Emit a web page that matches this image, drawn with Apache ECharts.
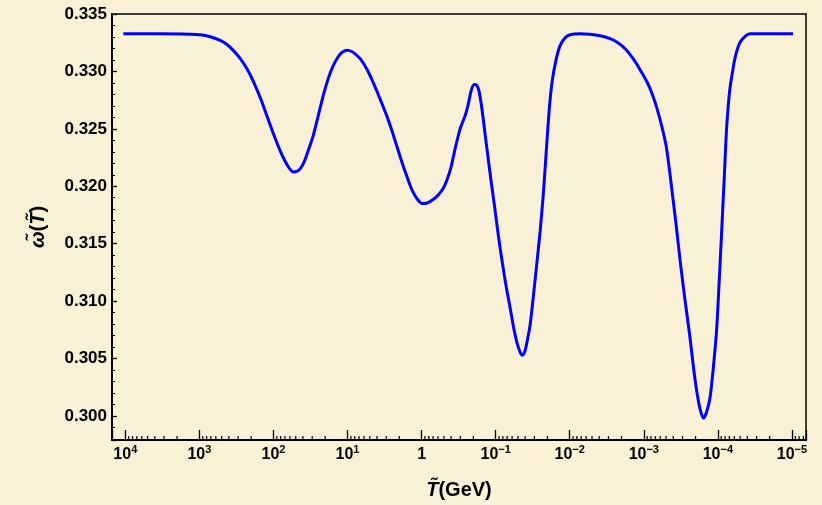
<!DOCTYPE html>
<html>
<head>
<meta charset="utf-8">
<script src="https://cdn.jsdelivr.net/npm/echarts@6/dist/echarts.min.js"></script>
<style>
html,body{margin:0;padding:0;background:#f9f1d5;}
#chart{width:822px;height:505px;}
</style>
</head>
<body>
<div id="chart"></div>
<script>
// log10 of temperature T (GeV)
const log10T = [4.027, 3.528, 3.123, 2.988, 2.853, 2.718, 2.624, 2.543, 2.448, 2.354,
  2.273, 2.178, 2.111, 2.043, 1.976, 1.908, 1.841, 1.787, 1.733, 1.679,
  1.638, 1.584, 1.530, 1.463, 1.395, 1.328, 1.261, 1.193, 1.126, 1.072,
  1.004, 0.937, 0.883, 0.829, 0.734, 0.653, 0.559, 0.464, 0.397, 0.329,
  0.262, 0.194, 0.127, 0.059, -0.008, -0.076, -0.156, -0.224, -0.291, -0.345,
  -0.399, -0.453, -0.521, -0.588, -0.629, -0.669, -0.710, -0.744, -0.777, -0.818,
  -0.858, -0.899, -0.939, -0.980, -1.020, -1.061, -1.128, -1.196, -1.250, -1.290,
  -1.331, -1.358, -1.391, -1.425, -1.466, -1.506, -1.553, -1.600, -1.641, -1.681,
  -1.722, -1.762, -1.816, -1.870, -1.938, -2.005, -2.140, -2.275, -2.410, -2.545,
  -2.640, -2.748, -2.856, -2.950, -3.044, -3.112, -3.179, -3.247, -3.301, -3.341,
  -3.382, -3.436, -3.490, -3.557, -3.625, -3.672, -3.715, -3.760, -3.804, -3.847,
  -3.895, -3.935, -3.982, -4.016, -4.050, -4.084, -4.117, -4.158, -4.205, -4.246,
  -4.300, -4.367, -4.435, -5.015];
// omega(T)
const omega = [0.33328, 0.33328, 0.33324, 0.33319, 0.33302, 0.33270, 0.33232, 0.33183, 0.33111, 0.33019,
  0.32915, 0.32771, 0.32654, 0.32532, 0.32415, 0.32306, 0.32215, 0.32158, 0.32125, 0.32132,
  0.32154, 0.32215, 0.32311, 0.32441, 0.32615, 0.32789, 0.32937, 0.33050, 0.33128, 0.33167,
  0.33185, 0.33171, 0.33145, 0.33111, 0.33015, 0.32902, 0.32758, 0.32602, 0.32476, 0.32337,
  0.32202, 0.32076, 0.31963, 0.31889, 0.31850, 0.31854, 0.31884, 0.31924, 0.31980, 0.32058,
  0.32171, 0.32328, 0.32502, 0.32615, 0.32711, 0.32832, 0.32885, 0.32880, 0.32824, 0.32658,
  0.32450, 0.32241, 0.32041, 0.31850, 0.31650, 0.31458, 0.31180, 0.30937, 0.30745, 0.30632,
  0.30554, 0.30528, 0.30554, 0.30650, 0.30797, 0.31024, 0.31311, 0.31606, 0.31911, 0.32284,
  0.32658, 0.32911, 0.33102, 0.33224, 0.33293, 0.33319, 0.33328, 0.33324, 0.33311, 0.33285,
  0.33254, 0.33198, 0.33111, 0.33015, 0.32908, 0.32806, 0.32676, 0.32511, 0.32354, 0.32171,
  0.31954, 0.31667, 0.31354, 0.31006, 0.30676, 0.30415, 0.30215, 0.30058, 0.29980, 0.30032,
  0.30163, 0.30397, 0.30737, 0.31145, 0.31589, 0.32041, 0.32493, 0.32824, 0.33024, 0.33154,
  0.33254, 0.33306, 0.33328, 0.33328];
// axis ranges (x in log10 GeV)
const xRange = [-5.19, 4.18];
const yRange = [0.2979, 0.335];
const decadeExponents = [-5, -4, -3, -2, -1, 0, 1, 2, 3, 4];

// minor tick positions (2..9 x 10^n), generated from the decades
const minorTicks = [];
for (let n = -6; n <= 4; n++) {
  for (let k = 2; k <= 9; k++) {
    const p = n + Math.log10(k);
    if (p > xRange[0] && p < xRange[1]) minorTicks.push([p, yRange[0]]);
  }
}

const font = '"Liberation Sans", Arial, Helvetica, sans-serif';
const chart = echarts.init(document.getElementById('chart'));
chart.setOption({
  animation: false,
  backgroundColor: '#f9f1d5',
  grid: {left: 112, right: 16, top: 14, bottom: 63, show: true, borderColor: '#000', borderWidth: 1.5, backgroundColor: 'transparent'},
  xAxis: {
    type: 'value', min: xRange[0], max: xRange[1], inverse: true, splitNumber: 10,
    axisLine: {show: true, onZero: false, lineStyle: {color: '#000', width: 2}},
    axisTick: {show: true, inside: true, length: 10, lineStyle: {color: '#000', width: 1.3}},
    splitLine: {show: false},
    axisLabel: {
      margin: 4, color: '#000',
      formatter: v => {
        const n = Math.round(v);
        if (Math.abs(v - n) > 1e-6 || decadeExponents.indexOf(n) < 0) return '';
        if (n === 0) return '{b|1}';
        return '{b|10}{s|' + (n < 0 ? '\u2212' + (-n) : n) + '}';
      },
      rich: {
        b: {fontFamily: font, fontWeight: 'bold', fontSize: 16, lineHeight: 21, color: '#000'},
        s: {fontFamily: font, fontWeight: 'bold', fontSize: 11, lineHeight: 10, verticalAlign: 'top', color: '#000'}
      }
    },
    name: '{i|T\u0303}{n|(GeV)}', nameLocation: 'middle', nameGap: 40,
    nameTextStyle: {
      rich: {
        i: {fontFamily: font, fontWeight: 'bold', fontStyle: 'italic', fontSize: 20, color: '#000'},
        n: {fontFamily: font, fontWeight: 'bold', fontSize: 20, color: '#000'}
      }
    }
  },
  yAxis: {
    type: 'value', min: yRange[0], max: yRange[1], splitNumber: 7,
    axisLine: {show: true, onZero: false, lineStyle: {color: '#000', width: 2}},
    axisTick: {show: true, inside: true, length: 5, lineStyle: {color: '#000', width: 1.3}},
    minorTick: {show: true, splitNumber: 5, length: 3, lineStyle: {color: '#000', width: 1}},
    splitLine: {show: false},
    axisLabel: {
      margin: 5, color: '#000', fontFamily: font, fontWeight: 'bold', fontSize: 17,
      showMinLabel: false,
      formatter: v => v.toFixed(3)
    },
    name: '{i|\u03C9\u0303}{n|(}{i|T\u0303}{n|)}', nameLocation: 'middle', nameGap: 64, nameRotate: 90,
    nameTextStyle: {
      rich: {
        i: {fontFamily: font, fontWeight: 'bold', fontStyle: 'italic', fontSize: 20, color: '#000'},
        n: {fontFamily: font, fontWeight: 'bold', fontSize: 20, color: '#000'}
      }
    }
  },
  series: [
    {
      type: 'line', data: log10T.map((t, i) => [t, omega[i]]),
      showSymbol: false, smooth: 0.25, lineStyle: {color: '#0000ff', width: 3}, silent: true, z: 3
    },
    {
      type: 'custom', data: minorTicks, silent: true, z: 2,
      renderItem: (params, api) => {
        const p = api.coord([api.value(0), api.value(1)]);
        return {type: 'line', shape: {x1: p[0], y1: p[1], x2: p[0], y2: p[1] - 4},
          style: {stroke: '#000', lineWidth: 1.2}};
      }
    }
  ]
});
</script>
</body>
</html>
